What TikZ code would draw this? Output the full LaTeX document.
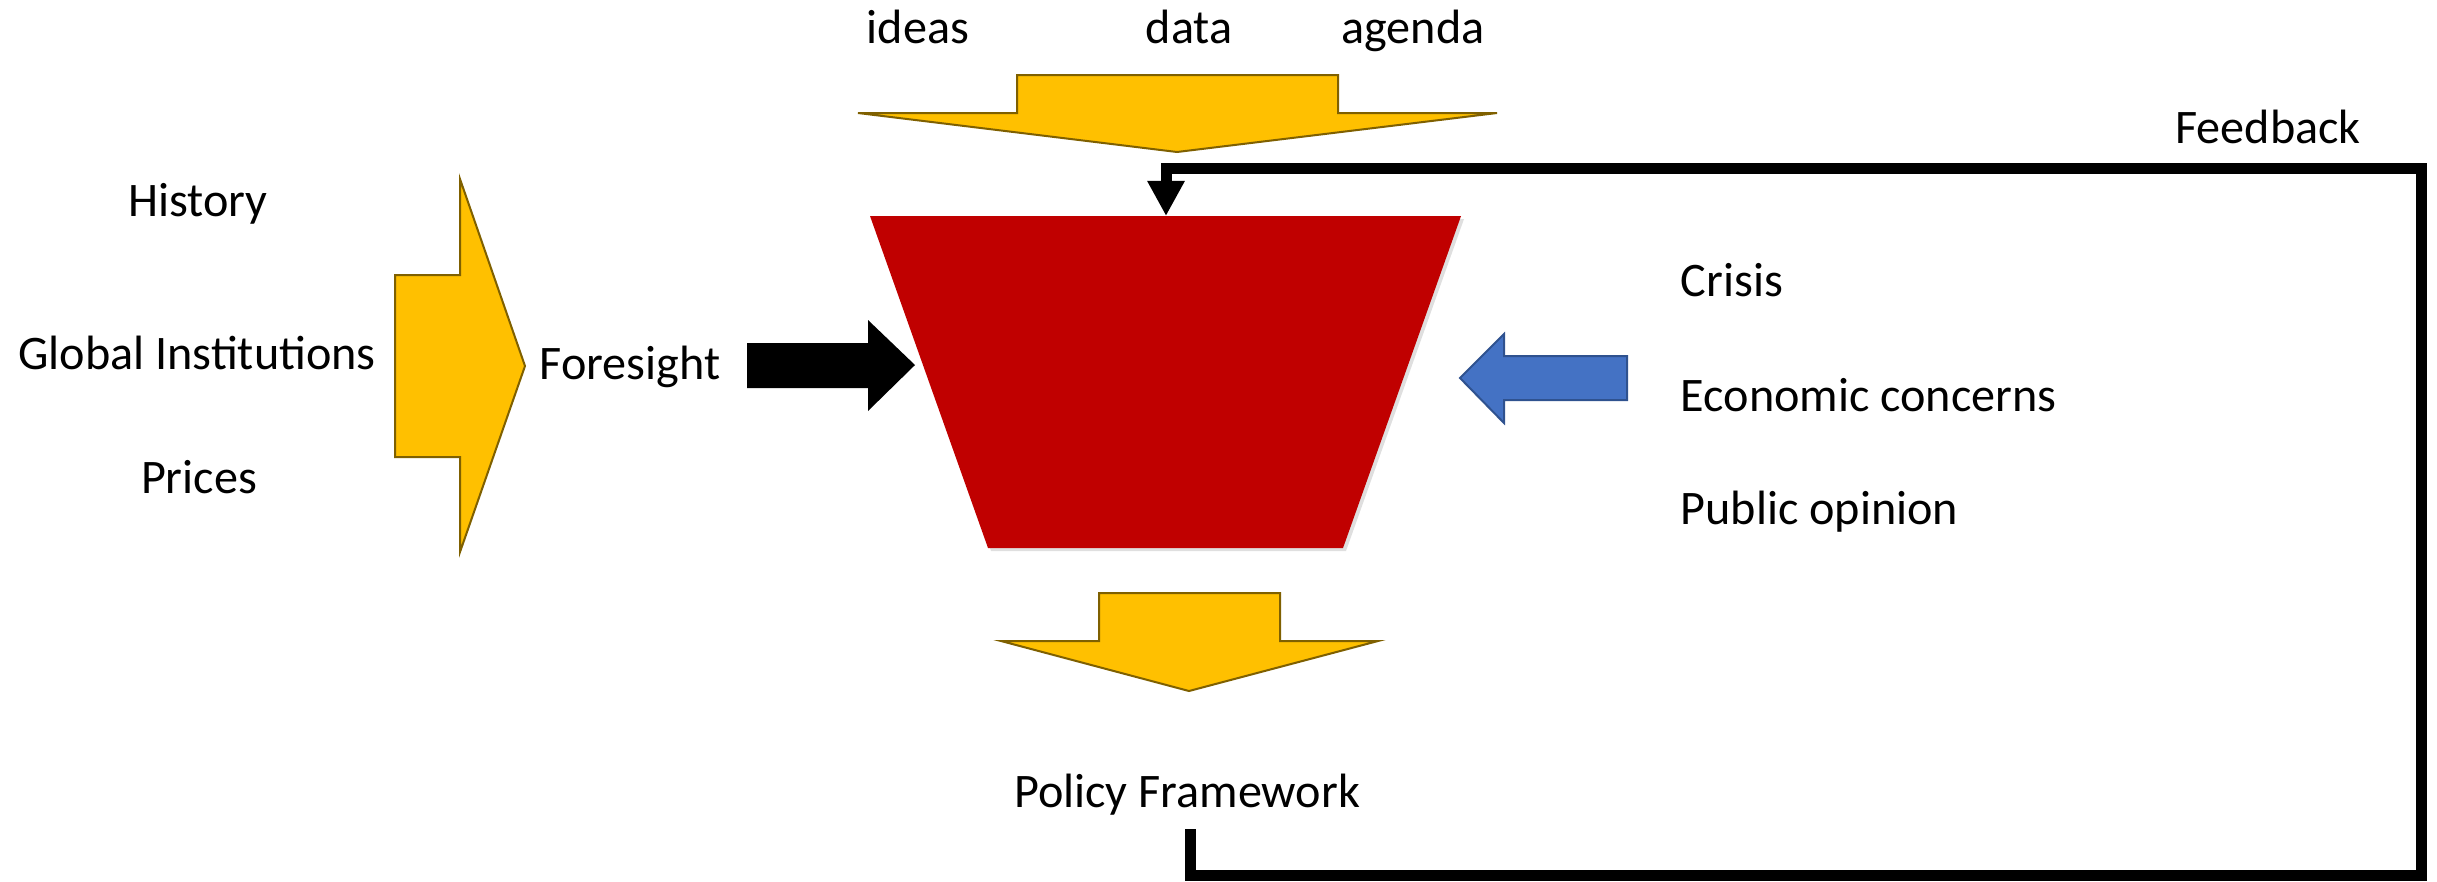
\documentclass[tikz,border=0pt]{standalone}
\usepackage{fontspec}
\setmainfont{Carlito}
\usetikzlibrary{positioning, arrows.meta, shadows}
\definecolor{FlowYellow}{RGB}{255, 192, 0}
\definecolor{FlowBorder}{RGB}{127, 96, 0}
\definecolor{FunnelRed}{RGB}{192, 0, 0}
\definecolor{PressureBlue}{RGB}{68, 114, 196}
\definecolor{PressureBorder}{RGB}{47, 82, 143}

\begin{document}
\begin{tikzpicture}[x=0.01cm, y=-0.01cm,
    every node/.style={font=\fontsize{13.7pt}{16pt}\selectfont, inner sep=0pt},
    label/.style={anchor=base},
    inflow/.style={fill=FlowYellow, draw=FlowBorder, line width=0.02cm, line join=miter},
    pressure/.style={fill=PressureBlue, draw=PressureBorder, line width=0.02cm},
    feedback/.style={line width=0.11cm, line join=miter,
      -{Triangle[length=0.35cm, width=0.35cm]}}]
    \useasboundingbox (0,0) rectangle (2437,881);

    % Policy funnel
    \fill[FunnelRed, drop shadow={shadow xshift=0.03cm, shadow yshift=-0.03cm, opacity=0.25}]
      (870,216) -- (1461,216) -- (1343,548) -- (988,548) -- cycle;
    \coordinate (funneltop) at (1166,216);

    % Inputs from above
    \node[label] (ideas) at (918,43) {ideas};
    \node[label] (data) at (1189,43) {data};
    \node[label] (agenda) at (1413,43) {agenda};
    \draw[inflow] (858,113) -- (1017,113) -- (1017,75) -- (1338,75) --
      (1338,113) -- (1497,113) -- (1177,152) -- cycle;

    % Inputs from the left
    \node[label] (history) at (198,216) {History};
    \node[label] (global) at (197,369) {Global Institutions};
    \node[label] (prices) at (199,493) {Prices};
    \draw[inflow] (395,275) -- (460,275) -- (460,179) -- (525,366) --
      (460,552) -- (460,457) -- (395,457) -- cycle;
    \node[label] (foresight) at (630,379) {Foresight};
    \fill (747,343) -- (868,343) -- (868,320) -- (915,365) -- (868,411) --
      (868,388) -- (747,388) -- cycle;

    % Pressures from the right
    \draw[pressure] (1627,356) -- (1504,356) -- (1504,334) -- (1460,378) --
      (1504,423) -- (1504,400) -- (1627,400) -- cycle;
    \node[label, anchor=base west] (crisis) at (1680,296) {Crisis};
    \node[label, anchor=base west] (economic) at (1680,411) {Economic concerns};
    \node[label, anchor=base west] (opinion) at (1680,524) {Public opinion};

    % Output
    \draw[inflow] (1001,641) -- (1099,641) -- (1099,593) -- (1280,593) --
      (1280,641) -- (1378,641) -- (1189,691) -- cycle;
    \node[label] (policy) at (1187,807) {Policy Framework};

    % Feedback loop
    \coordinate (policyout) at (1190,829);
    \coordinate (loopbottom) at (2421,875);
    \coordinate (looptop) at (1166,168);
    \node[label] (fblabel) at (2268,143) {Feedback};
    \draw[feedback] (policyout) |- (loopbottom) |- (looptop) -- (funneltop);
  \end{tikzpicture}
\end{document}
